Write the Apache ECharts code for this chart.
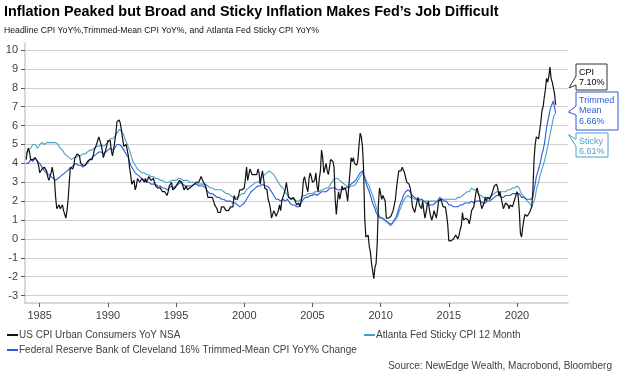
<!DOCTYPE html>
<html><head><meta charset="utf-8">
<script src="https://cdn.jsdelivr.net/npm/echarts@6/dist/echarts.min.js"></script>
<style>html,body{margin:0;padding:0;background:#fff}#c{width:624px;height:381px}</style>
</head><body><div id="c"></div>
<script>
// Monthly data, starting January 1984
const startYear = 1984;
const yearTicks = [1985, 1990, 1995, 2000, 2005, 2010, 2015, 2020];
const yTicks = [-3, -2, -1, 0, 1, 2, 3, 4, 5, 6, 7, 8, 9, 10];

const nameCPI = 'US CPI Urban Consumers YoY NSA';
const nameSticky = 'Atlanta Fed Sticky CPI 12 Month';
const nameTM = 'Federal Reserve Bank of Cleveland 16% Trimmed-Mean CPI YoY% Change';

const cpi = [
4.2,4.6,4.8,4.6,4.2,4.2,4.2,4.3,4.3,4.3,4.1,3.9,
3.5,3.5,3.7,3.7,3.8,3.8,3.6,3.3,3.1,3.2,3.5,3.8,
3.9,3.1,2.2,1.6,1.5,1.8,1.6,1.6,1.8,1.5,1.3,1.1,
1.5,2.1,3.0,3.8,3.9,3.7,3.9,4.3,4.4,4.5,4.5,4.4,
4.0,3.9,3.9,3.9,3.9,4.0,4.1,4.0,4.2,4.2,4.2,4.4,
4.7,4.8,5.0,5.1,5.4,5.2,5.0,4.7,4.3,4.5,4.7,4.6,
5.2,5.3,5.2,4.7,4.4,4.7,4.8,5.6,6.2,6.3,6.3,6.1,
5.7,5.3,4.9,4.9,5.0,4.7,4.4,3.8,3.4,2.9,3.0,3.1,
2.6,2.8,3.2,3.2,3.0,3.1,3.2,3.1,3.0,3.2,3.0,2.9,
3.3,3.2,3.1,3.2,3.2,3.0,2.8,2.8,2.7,2.8,2.7,2.7,
2.5,2.5,2.5,2.4,2.3,2.5,2.8,2.9,3.0,2.6,2.7,2.7,
2.8,2.9,2.9,3.1,3.2,3.0,2.8,2.6,2.5,2.8,2.6,2.5,
2.7,2.7,2.8,2.9,2.9,2.8,3.0,2.9,3.0,3.0,3.3,3.3,
3.0,3.0,2.8,2.5,2.2,2.3,2.2,2.2,2.2,2.1,1.8,1.7,
1.6,1.4,1.4,1.4,1.7,1.7,1.7,1.6,1.5,1.5,1.5,1.6,
1.7,1.6,1.7,2.3,2.1,2.0,2.1,2.3,2.6,2.6,2.6,2.7,
2.7,3.2,3.8,3.1,3.2,3.7,3.7,3.4,3.5,3.4,3.4,3.4,
3.7,3.5,2.9,3.3,3.6,3.2,2.7,2.7,2.6,2.1,1.9,1.6,
1.1,1.1,1.5,1.6,1.2,1.1,1.5,1.8,1.5,2.0,2.2,2.4,
2.6,3.0,3.0,2.2,2.1,2.1,2.1,2.2,2.3,2.0,1.8,1.9,
1.9,1.7,1.7,2.3,3.1,3.3,3.0,2.7,2.5,3.2,3.5,3.3,
3.0,3.0,3.1,3.5,2.8,2.5,3.2,3.6,4.7,4.3,3.5,3.4,
4.0,3.6,3.4,3.5,4.2,4.3,4.1,3.8,2.1,1.3,2.0,2.5,
2.1,2.4,2.8,2.6,2.7,2.7,2.4,2.0,2.8,3.5,4.3,4.1,
4.3,4.0,4.0,3.9,4.2,5.0,5.6,5.4,4.9,3.7,1.1,0.1,
0.0,0.2,-0.4,-0.7,-1.3,-1.4,-2.1,-1.5,-1.3,-0.2,1.8,2.7,
2.6,2.1,2.3,2.2,2.0,1.1,1.2,1.1,1.1,1.2,1.1,1.5,
1.6,2.1,2.7,3.2,3.6,3.6,3.6,3.8,3.9,3.5,3.4,3.0,
2.9,2.9,2.7,2.3,1.7,1.7,1.4,1.7,2.0,2.2,1.8,1.7,
1.6,2.0,1.5,1.1,1.4,1.8,2.0,1.5,1.2,1.0,1.2,1.5,
1.6,1.1,1.5,2.0,2.1,2.1,2.0,1.7,1.7,1.7,1.3,0.8,
-0.1,0.0,-0.1,-0.2,0.0,0.1,0.2,0.2,0.0,0.2,0.5,0.7,
1.4,1.0,0.9,1.1,1.0,1.0,0.8,1.1,1.5,1.6,1.7,2.1,
2.5,2.7,2.4,2.2,1.9,1.6,1.7,1.9,2.2,2.0,2.2,2.1,
2.1,2.2,2.4,2.5,2.8,2.9,2.9,2.7,2.3,2.5,2.2,1.9,
1.6,1.5,1.9,2.0,1.8,1.6,1.8,1.7,1.7,1.8,2.1,2.3,
2.5,2.3,1.5,0.3,0.1,0.6,1.0,1.3,1.4,1.2,1.2,1.4,
1.4,1.7,2.6,4.2,5.0,5.4,5.4,5.3,5.4,6.2,6.8,7.0,
7.5,7.9,8.5,8.3,8.6,9.1,8.5,8.3,8.2,7.7,7.10
];

const trimmed = [
4.0,4.1,4.0,4.1,4.2,4.2,4.1,4.2,4.3,4.2,4.1,4.0,
4.0,3.9,3.8,3.7,3.6,3.6,3.5,3.5,3.4,3.4,3.3,3.3,
3.2,3.2,3.1,3.1,3.2,3.3,3.3,3.3,3.4,3.5,3.5,3.6,
3.6,3.7,3.7,3.8,3.8,3.9,3.9,3.9,4.0,3.9,3.9,3.9,
3.9,3.9,3.8,3.9,3.9,4.0,4.0,4.1,4.2,4.2,4.3,4.3,
4.4,4.4,4.5,4.6,4.6,4.7,4.6,4.5,4.5,4.6,4.6,4.7,
4.7,4.8,4.8,4.8,4.7,4.8,4.8,4.9,5.0,5.1,5.0,5.0,
4.9,4.8,4.7,4.6,4.5,4.4,4.3,4.1,3.9,3.8,3.7,3.6,
3.5,3.4,3.4,3.3,3.3,3.2,3.2,3.1,3.1,3.1,3.0,3.0,
3.0,3.0,2.9,2.9,2.9,2.9,2.9,2.8,2.8,2.8,2.8,2.8,
2.7,2.7,2.7,2.7,2.6,2.7,2.7,2.7,2.8,2.7,2.7,2.8,
2.8,2.8,2.9,2.9,3.0,2.9,2.9,2.9,2.8,2.8,2.8,2.8,
2.8,2.8,2.8,2.9,2.9,2.9,2.9,2.8,2.8,2.8,2.8,2.8,
2.8,2.8,2.7,2.6,2.5,2.5,2.4,2.4,2.4,2.3,2.3,2.2,
2.2,2.2,2.2,2.1,2.1,2.1,2.1,2.1,2.0,2.0,2.0,2.0,
2.0,2.0,1.9,1.9,1.9,1.8,1.8,1.7,1.7,1.7,1.8,1.9,
1.9,2.0,2.1,2.2,2.3,2.4,2.5,2.5,2.6,2.6,2.7,2.7,
2.8,2.8,2.8,2.9,2.9,2.9,2.8,2.8,2.8,2.7,2.7,2.6,
2.5,2.4,2.3,2.2,2.1,2.1,2.1,2.0,2.0,2.1,2.1,2.0,
2.0,2.0,2.1,2.0,1.9,1.9,1.8,1.8,1.8,1.7,1.7,1.6,
1.7,1.8,1.9,2.0,2.1,2.2,2.2,2.2,2.2,2.3,2.3,2.3,
2.3,2.3,2.4,2.4,2.3,2.4,2.4,2.4,2.5,2.5,2.5,2.5,
2.5,2.6,2.6,2.6,2.7,2.7,2.7,2.8,2.7,2.7,2.6,2.6,
2.6,2.6,2.6,2.6,2.7,2.7,2.7,2.7,2.8,2.8,2.9,2.9,
3.0,3.1,3.1,3.2,3.3,3.4,3.5,3.6,3.6,3.5,3.2,3.0,
2.8,2.7,2.5,2.3,2.1,1.9,1.8,1.6,1.4,1.3,1.2,1.2,
1.1,1.1,1.1,1.1,1.0,1.0,0.9,0.9,0.8,0.8,0.8,0.9,
1.0,1.1,1.2,1.4,1.6,1.8,1.9,2.1,2.3,2.4,2.5,2.6,
2.6,2.5,2.5,2.4,2.3,2.3,2.2,2.2,2.1,2.1,2.1,2.1,
2.1,2.0,2.0,1.9,1.9,1.9,1.8,1.8,1.8,1.8,1.8,1.8,
1.9,1.9,2.0,2.1,2.2,2.2,2.1,2.1,2.0,2.0,2.0,1.9,
1.8,1.8,1.8,1.8,1.7,1.7,1.7,1.7,1.7,1.7,1.8,1.8,
1.8,1.9,1.9,1.9,1.9,1.9,1.9,1.9,2.0,2.0,1.9,1.9,
2.0,2.0,2.0,2.1,2.0,2.0,1.9,1.9,1.9,1.9,2.0,2.0,
2.0,2.1,2.1,2.2,2.2,2.3,2.3,2.3,2.3,2.2,2.2,2.2,
2.2,2.3,2.3,2.3,2.3,2.3,2.3,2.3,2.4,2.4,2.4,2.4,
2.4,2.4,2.4,2.3,2.2,2.2,2.2,2.1,2.1,2.1,2.1,2.1,
2.1,2.1,2.2,2.6,2.9,3.3,3.5,3.7,3.9,4.2,4.5,4.7,
5.0,5.4,5.9,6.2,6.5,6.8,7.0,7.1,7.3,7.2,6.66
];

const sticky = [
4.5,4.6,4.7,4.8,4.8,4.9,5.0,4.9,5.0,4.9,4.8,4.9,
5.0,4.9,5.1,5.0,5.0,4.9,5.1,5.2,5.1,5.0,5.1,5.0,
5.1,5.0,5.1,5.0,5.0,4.9,4.8,4.8,4.7,4.6,4.5,4.4,
4.4,4.3,4.3,4.2,4.2,4.2,4.3,4.3,4.3,4.4,4.4,4.4,
4.4,4.4,4.5,4.5,4.5,4.5,4.6,4.6,4.7,4.7,4.7,4.7,
4.8,4.8,4.9,4.9,4.9,5.0,5.0,5.0,4.9,5.0,5.0,5.1,
5.1,5.2,5.3,5.3,5.3,5.4,5.4,5.5,5.6,5.7,5.8,5.8,
5.7,5.6,5.5,5.3,5.2,5.0,4.9,4.7,4.5,4.3,4.1,4.0,
3.9,3.8,3.7,3.6,3.6,3.5,3.5,3.5,3.5,3.4,3.4,3.4,
3.4,3.3,3.3,3.3,3.3,3.2,3.2,3.2,3.2,3.2,3.1,3.1,
3.1,3.0,3.0,3.0,3.0,3.0,3.0,3.1,3.1,3.1,3.1,3.1,
3.1,3.2,3.2,3.2,3.2,3.2,3.1,3.1,3.1,3.1,3.1,3.0,
3.0,3.0,3.0,3.0,3.0,3.0,3.0,3.0,2.9,2.9,2.9,2.9,
2.9,2.9,2.9,2.8,2.8,2.8,2.7,2.7,2.7,2.7,2.6,2.6,
2.6,2.6,2.6,2.6,2.6,2.5,2.5,2.5,2.4,2.4,2.4,2.3,
2.3,2.3,2.2,2.2,2.2,2.2,2.2,2.3,2.3,2.3,2.4,2.4,
2.4,2.5,2.6,2.6,2.7,2.7,2.8,2.8,2.9,2.9,3.0,3.0,
3.0,3.1,3.1,3.2,3.3,3.3,3.4,3.4,3.5,3.5,3.6,3.5,
3.5,3.4,3.4,3.3,3.2,3.1,3.0,2.9,2.8,2.7,2.7,2.6,
2.5,2.4,2.3,2.3,2.2,2.2,2.1,2.1,2.1,2.0,2.0,2.0,
2.0,2.0,2.1,2.2,2.3,2.3,2.3,2.3,2.4,2.4,2.4,2.4,
2.4,2.5,2.5,2.5,2.5,2.5,2.5,2.6,2.6,2.6,2.6,2.6,
2.7,2.7,2.7,2.8,2.9,3.0,3.1,3.1,3.2,3.2,3.2,3.1,
3.1,3.0,3.0,3.0,2.9,2.9,2.8,2.7,2.7,2.7,2.8,2.8,
2.8,2.9,2.9,3.0,3.1,3.2,3.3,3.4,3.5,3.5,3.3,3.2,
3.0,2.9,2.8,2.6,2.5,2.3,2.1,1.9,1.7,1.5,1.4,1.2,
1.1,1.1,1.0,1.0,0.9,0.9,0.9,0.8,0.8,0.7,0.8,0.9,
0.9,1.0,1.1,1.2,1.4,1.5,1.7,1.8,2.0,2.1,2.2,2.2,
2.3,2.3,2.2,2.2,2.2,2.1,2.1,2.1,2.1,2.1,2.0,2.1,
2.1,2.1,2.0,2.0,2.0,2.0,2.0,2.0,2.0,2.0,2.0,2.0,
2.0,2.0,2.0,2.1,2.1,2.1,2.1,2.1,2.1,2.1,2.1,2.1,
2.1,2.1,2.1,2.1,2.1,2.1,2.1,2.1,2.2,2.2,2.2,2.3,
2.3,2.4,2.4,2.4,2.5,2.5,2.5,2.6,2.7,2.7,2.6,2.6,
2.6,2.5,2.4,2.3,2.3,2.2,2.2,2.2,2.2,2.2,2.2,2.2,
2.2,2.3,2.3,2.4,2.4,2.5,2.5,2.5,2.5,2.5,2.5,2.5,
2.5,2.5,2.5,2.6,2.6,2.6,2.6,2.6,2.7,2.7,2.7,2.7,
2.8,2.8,2.7,2.5,2.4,2.3,2.2,2.2,2.1,2.0,2.0,1.9,
1.8,1.7,1.8,2.0,2.2,2.6,2.8,3.0,3.3,3.5,3.7,3.9,
4.1,4.3,4.6,4.9,5.2,5.5,5.8,6.1,6.4,6.6,6.61
];

const FONT = '"Liberation Sans", Arial, sans-serif';
const toPairs = arr => arr.map((v, i) => [startYear + i / 12, v]);
const last = arr => arr[arr.length - 1].toFixed(2) + '%';

const colCPI = '#111111', colTM = '#2b5bd8', colSticky = '#4a9fc8';

function callout(boxL, boxT, boxR, boxB, armA, armB, tipX, tipY, stroke, text, color) {
  return {
    type: 'group',
    children: [
      { type: 'polygon', shape: { points: [[boxL, boxT], [boxR, boxT], [boxR, boxB], [boxL, boxB], [boxL, armB], [tipX, tipY], [boxL, armA]] },
        style: { fill: '#fff', stroke: stroke, lineWidth: 1 } },
      { type: 'text', x: boxL + 3, y: boxT + 3,
        style: { text: text, fill: color, font: '9px ' + FONT, lineHeight: 10.5, verticalAlign: 'top' } }
    ]
  };
}

const chart = echarts.init(document.getElementById('c'), null, { renderer: 'canvas' });
chart.setOption({
  animation: false,
  backgroundColor: '#fff',
  textStyle: { fontFamily: FONT },
  title: [
    { text: 'Inflation Peaked but Broad and Sticky Inflation Makes Fed\u2019s Job Difficult', left: 4, top: 5, padding: 0,
      textStyle: { fontSize: 14.4, fontWeight: 'bold', color: '#000', fontFamily: FONT } },
    { text: 'Headline CPI YoY%,Trimmed-Mean CPI YoY%, and Atlanta Fed Sticky CPI YoY%', left: 4, top: 26, padding: 0,
      textStyle: { fontSize: 8.7, fontWeight: 'normal', color: '#111', fontFamily: FONT } },
    { text: 'Source: NewEdge Wealth, Macrobond, Bloomberg', right: 12, top: 361, padding: 0,
      textStyle: { fontSize: 10, fontWeight: 'normal', color: '#404040', fontFamily: FONT } }
  ],
  legend: [
    { data: [nameCPI, nameTM], orient: 'vertical', left: 7, top: 329, padding: 0, itemGap: 3,
      icon: 'rect', itemWidth: 11, itemHeight: 2, selectedMode: false,
      textStyle: { fontSize: 10, color: '#404040', lineHeight: 12, padding: [0, 0, 0, -4] } },
    { data: [nameSticky], orient: 'vertical', left: 364, top: 329, padding: 0,
      icon: 'rect', itemWidth: 11, itemHeight: 2, selectedMode: false,
      textStyle: { fontSize: 10, color: '#404040', lineHeight: 12, padding: [0, 0, 0, -4] } }
  ],
  grid: { left: 25, right: 56, top: 43, bottom: 78 },
  xAxis: {
    type: 'value', min: 1983.92, max: 2023.74,
    axisLine: { show: true, onZero: false, lineStyle: { color: '#cccccc', width: 1.5 } },
    axisTick: { show: true, customValues: yearTicks, length: 4, lineStyle: { color: '#595959' } },
    axisLabel: { customValues: yearTicks, color: '#404040', fontSize: 11, margin: 7, formatter: v => String(v) },
    splitLine: { show: false }
  },
  yAxis: {
    type: 'value', min: -3.39, max: 10.37,
    axisLine: { show: true, onZero: false, lineStyle: { color: '#d9d9d9', width: 2 } },
    axisTick: { show: true, customValues: yTicks, length: 4, lineStyle: { color: '#595959' } },
    axisLabel: { customValues: yTicks, color: '#404040', fontSize: 11, margin: 7 },
    splitLine: { show: true, lineStyle: { color: '#d0d0d0', width: 1 } }
  },
  series: [
    { name: nameSticky, type: 'line', data: toPairs(sticky), showSymbol: false, color: colSticky,
      lineStyle: { width: 1.1, color: colSticky } },
    { name: nameTM, type: 'line', data: toPairs(trimmed), showSymbol: false, color: colTM,
      lineStyle: { width: 1.1, color: colTM } },
    { name: nameCPI, type: 'line', data: toPairs(cpi), showSymbol: false, color: colCPI,
      lineStyle: { width: 1.2, color: colCPI } }
  ],
  graphic: [
    callout(576, 64, 607, 90, 76, 85, 569, 88, '#333333', 'CPI\n' + last(cpi), '#000'),
    callout(576, 92, 618, 130, 106, 115, 568.5, 112, colTM, 'Trimmed\nMean\n' + last(trimmed), colTM),
    callout(576, 133, 608, 157, 139.5, 146.5, 568.5, 134.5, colSticky, 'Sticky\n' + last(sticky), colSticky)
  ]
});
</script>
</body></html>
